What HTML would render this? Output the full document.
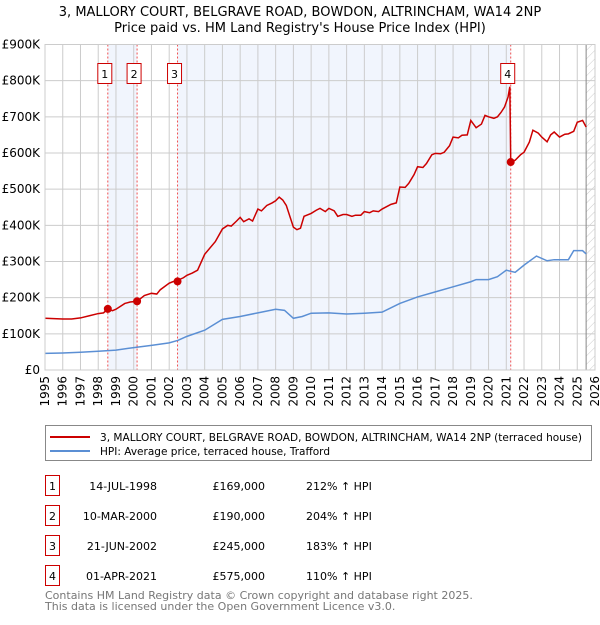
<!DOCTYPE html>
<html><head><meta charset="utf-8"><style>
body{margin:0;background:#fff;font-family:"Liberation Sans","DejaVu Sans",sans-serif;}
svg text{font-family:"DejaVu Sans","Liberation Sans",sans-serif;}
</style></head><body>
<svg id="chart" width="600" height="620" viewBox="0 0 600 620" xmlns="http://www.w3.org/2000/svg">
<defs><pattern id="hatch" width="6" height="6" patternUnits="userSpaceOnUse" patternTransform="rotate(45)"><line x1="0" y1="0" x2="0" y2="6" stroke="#ccc" stroke-width="1"/></pattern></defs>
<text x="300" y="16" text-anchor="middle" font-size="13">3, MALLORY COURT, BELGRAVE ROAD, BOWDON, ALTRINCHAM, WA14 2NP</text>
<text x="300" y="32" text-anchor="middle" font-size="13">Price paid vs. HM Land Registry's House Price Index (HPI)</text>
<g id="plot"></g>
<rect x="45.5" y="425.5" width="546" height="35" fill="#fff" stroke="#888"/>
<line x1="50" y1="437" x2="90" y2="437" stroke="#cc0000" stroke-width="2"/>
<text x="100" y="441" font-size="11" textLength="482" lengthAdjust="spacingAndGlyphs">3, MALLORY COURT, BELGRAVE ROAD, BOWDON, ALTRINCHAM, WA14 2NP (terraced house)</text>
<line x1="50" y1="451" x2="90" y2="451" stroke="#5b8fd4" stroke-width="2"/>
<text x="100" y="455" font-size="11" textLength="230" lengthAdjust="spacingAndGlyphs">HPI: Average price, terraced house, Trafford</text>
<g id="table"></g>
<text x="45" y="599" font-size="11" fill="#777">Contains HM Land Registry data © Crown copyright and database right 2025.</text>
<text x="45" y="610" font-size="11" fill="#777">This data is licensed under the Open Government Licence v3.0.</text>
</svg>
<script>
const yTicks=[0,100000,200000,300000,400000,500000,600000,700000,800000,900000];
const yTickLabels=["£0","£100K","£200K","£300K","£400K","£500K","£600K","£700K","£800K","£900K"];
const xYears=[1995,1996,1997,1998,1999,2000,2001,2002,2003,2004,2005,2006,2007,2008,2009,2010,2011,2012,2013,2014,2015,2016,2017,2018,2019,2020,2021,2022,2023,2024,2025,2026];
const redT=[1995,1995.5,1996,1996.5,1997,1997.5,1998,1998.3,1998.54,1998.8,1999,1999.5,1999.8,2000.19,2000.6,2001,2001.3,2001.5,2002,2002.2,2002.47,2002.8,2003,2003.3,2003.6,2004,2004.6,2005,2005.3,2005.5,2005.8,2006,2006.2,2006.5,2006.7,2007,2007.2,2007.5,2007.8,2008,2008.2,2008.4,2008.6,2009,2009.2,2009.4,2009.6,2010,2010.3,2010.5,2010.8,2011,2011.3,2011.5,2011.8,2012,2012.3,2012.5,2012.8,2013,2013.3,2013.5,2013.8,2014,2014.5,2014.8,2015,2015.3,2015.5,2015.8,2016,2016.3,2016.5,2016.8,2017,2017.3,2017.5,2017.8,2018,2018.3,2018.5,2018.8,2019,2019.3,2019.6,2019.8,2020,2020.3,2020.5,2020.7,2020.9,2021.1,2021.2,2021.25,2021.5,2021.8,2022,2022.3,2022.5,2022.8,2023,2023.3,2023.5,2023.7,2024,2024.3,2024.5,2024.8,2025,2025.3,2025.5];
const redV=[143,142,141,141,144,150,156,158,169,164,168,184,188,190,206,212,210,222,240,244,248,255,262,268,276,320,355,390,400,398,412,422,410,418,412,445,440,455,462,468,478,470,455,395,388,392,425,433,442,447,438,447,440,425,430,430,425,428,428,438,435,440,438,445,458,462,506,505,516,540,562,560,571,595,599,598,602,620,644,642,649,650,690,670,680,704,700,696,700,712,727,755,783,575,580,595,602,630,663,655,644,631,650,658,644,652,653,660,685,690,672];
const hpiT=[1995,1996,1997,1998,1999,2000,2001,2002,2002.5,2003,2004,2005,2006,2007,2008,2008.5,2009,2009.5,2010,2011,2012,2013,2014,2015,2016,2017,2018,2019,2019.3,2020,2020.5,2021,2021.5,2022,2022.7,2023.3,2023.7,2024,2024.5,2024.8,2025.3,2025.5];
const hpiV=[46,47,49,52,55,62,68,75,82,93,110,140,148,158,168,165,143,148,157,158,155,157,160,184,202,216,230,244,250,250,258,276,270,290,315,302,305,305,305,330,330,321];
const saleNums=["1","2","3","4"];
const saleT=[1998.54,2000.19,2002.47,2021.25];
const saleV=[169,190,245,575];
const saleDates=["14-JUL-1998","10-MAR-2000","21-JUN-2002","01-APR-2021"];
const salePrices=["£169,000","£190,000","£245,000","£575,000"];
const saleHpi=["212% ↑ HPI","204% ↑ HPI","183% ↑ HPI","110% ↑ HPI"];

const X0=45,X1=595,Y0=370,Y1=44.5;
const xs=t=>X0+(t-1995)/31*(X1-X0);
const ys=v=>Y0-v/900000*(Y0-Y1);
const NS="http://www.w3.org/2000/svg";
const plot=document.getElementById('plot');
function mk(tag,attrs,parent){const e=document.createElementNS(NS,tag);for(const k in attrs)e.setAttribute(k,attrs[k]);(parent||plot).appendChild(e);return e;}
let r=mk('rect',{x:X0,y:Y1,width:X1-X0,height:Y0-Y1,fill:'#fff'});


[[0,1],[2,3]].forEach(([a,b])=>{
 const s=mk('rect',{x:xs(saleT[a]),y:Y1,width:xs(saleT[b])-xs(saleT[a]),height:Y0-Y1,fill:'#eef3fc',opacity:0.8});
 
 
});
const h=mk('rect',{x:xs(2025.5),y:Y1,width:X1-xs(2025.5),height:Y0-Y1,fill:'url(#hatch)'});


xYears.forEach(yr=>{
 const l=mk('line',{x1:xs(yr),x2:xs(yr),y1:Y1,y2:Y0,stroke:'#ccc','stroke-width':1});
 
 
 const t=mk('text',{x:0,y:0,'font-size':12,'text-anchor':'end',transform:`translate(${xs(yr)+4},376) rotate(-90)`});
 t.textContent=yr;
 
 
});
yTicks.forEach((v,i)=>{
 const l=mk('line',{x1:X0,x2:X1,y1:ys(v),y2:ys(v),stroke:'#ccc','stroke-width':1});
 
 
 const t=mk('text',{x:40,y:ys(v)+4,'font-size':12,'text-anchor':'end'});
 t.textContent=yTickLabels[i];
 
 
});
const fl=mk('line',{x1:xs(2025.5),x2:xs(2025.5),y1:Y1,y2:Y0,stroke:'#888','stroke-width':1});


saleT.forEach((t,i)=>{
 const l=mk('line',{x1:xs(t),x2:xs(t),y1:Y1,y2:Y0,stroke:'#f05050','stroke-width':1,'stroke-dasharray':'2,2'});
 
 
});
const hp=mk('polyline',{points:hpiT.map((t,i)=>xs(t)+','+ys(hpiV[i]*1000)).join(' '),fill:'none',stroke:'#5b8fd4','stroke-width':1.5});


const rp=mk('polyline',{points:redT.map((t,i)=>xs(t)+','+ys(redV[i]*1000)).join(' '),fill:'none',stroke:'#cc0000','stroke-width':1.5});


saleT.forEach((t,i)=>{
 const c=mk('circle',{cx:xs(t),cy:ys(saleV[i]*1000),r:4,fill:'#cc0000'});
 
 
 const b=mk('rect',{x:xs(t)-10,y:63.5,width:14,height:20,fill:'#fff',stroke:'#cc0000'});
 
 
 const tx=mk('text',{x:xs(t)-3,y:78,'font-size':11,'text-anchor':'middle'});
 tx.textContent=saleNums[i];
 
 
});
const tb=document.getElementById('table');
saleT.forEach((t,i)=>{
 const y=475+i*30;
 const b=mk('rect',{x:45.5,y:y+0.5,width:14,height:20,fill:'#fff',stroke:'#cc0000'},tb);
 
 
 const n=mk('text',{x:52.5,y:y+15,'font-size':11,'text-anchor':'middle'},tb);
 n.textContent=saleNums[i];
 
 
 const d=mk('text',{x:157,y:y+15,'font-size':11,'text-anchor':'end'},tb);
 d.textContent=saleDates[i];
 
 
 const p=mk('text',{x:265,y:y+15,'font-size':11,'text-anchor':'end'},tb);
 p.textContent=salePrices[i];
 
 
 const q=mk('text',{x:306,y:y+15,'font-size':11},tb);
 q.textContent=saleHpi[i];
 
 
});
const bd=mk('rect',{x:X0,y:Y1,width:X1-X0,height:Y0-Y1,fill:'none',stroke:'#ccc'});


</script>
</body></html>
